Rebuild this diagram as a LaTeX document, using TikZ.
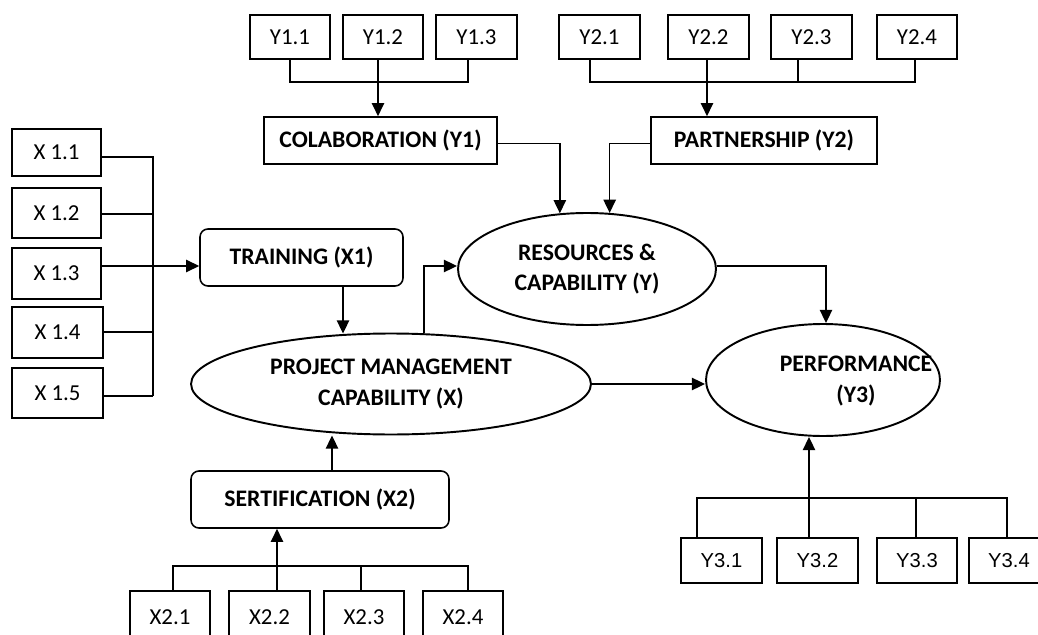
\documentclass[tikz,border=0pt]{standalone}
\usepackage{fontspec}
\setmainfont{Carlito}
\newfontfamily\arialf{Liberation Sans}
\usetikzlibrary{arrows.meta,calc,shapes.geometric}
\tikzset{
  ln/.style={line width=0.9pt},
  arr/.style={ln,-{Triangle[length=7.5pt,width=7pt]}},
  ind/.style={draw,ln,rectangle,inner sep=0pt,font=\fontsize{13}{15}\selectfont},
  cons/.style={draw,ln,rectangle,inner sep=0pt,font=\bfseries\fontsize{13.5}{16}\selectfont},
  rcons/.style={cons,rounded corners=4.5pt},
  lat/.style={draw,line width=1.1pt,ellipse,inner sep=0pt,font=\bfseries\fontsize{13.5}{17.5}\selectfont,align=center}
}
\begin{document}
\begin{tikzpicture}[x=0.02cm,y=-0.02cm]
\useasboundingbox (0,0) rectangle (1038,635);
\clip (0,0) rectangle (1038,635);
% Y1 indicators
\node[ind,minimum width=1.6cm,minimum height=0.88cm] (y11) at (290,37) {Y1.1};
\node[ind,minimum width=1.6cm,minimum height=0.88cm] (y12) at (383,37) {Y1.2};
\node[ind,minimum width=1.62cm,minimum height=0.88cm] (y13) at (476.5,37) {Y1.3};
% Y2 indicators
\node[ind,minimum width=1.62cm,minimum height=0.88cm] (y21) at (599.5,37) {Y2.1};
\node[ind,minimum width=1.62cm,minimum height=0.88cm] (y22) at (708.5,37) {Y2.2};
\node[ind,minimum width=1.62cm,minimum height=0.88cm] (y23) at (811.5,37) {Y2.3};
\node[ind,minimum width=1.6cm,minimum height=0.88cm] (y24) at (917,37) {Y2.4};
% constructs Y1, Y2
\node[cons,minimum width=4.66cm,minimum height=0.94cm] (colab) at (380.5,140.5) {COLABORATION (Y1)};
\node[cons,minimum width=4.52cm,minimum height=0.94cm] (part) at (764,140.5) {PARTNERSHIP (Y2)};
% X1 indicators
\node[ind,minimum width=1.78cm,minimum height=0.94cm] (x11) at (56.5,152.5) {X 1.1};
\node[ind,minimum width=1.78cm,minimum height=1.0cm] (x12) at (56.5,213) {X 1.2};
\node[ind,minimum width=1.78cm,minimum height=1.02cm] (x13) at (56.5,273.5) {X 1.3};
\node[ind,minimum width=1.82cm,minimum height=1.02cm] (x14) at (57.5,332.5) {X 1.4};
\node[ind,minimum width=1.82cm,minimum height=1.0cm] (x15) at (57.5,393) {X 1.5};
% training, sertification
\node[rcons,minimum width=4.06cm,minimum height=1.14cm] (train) at (301.5,257.5) {TRAINING (X1)};
\node[rcons,minimum width=5.16cm,minimum height=1.14cm] (sert) at (320,499.5) {SERTIFICATION (X2)};
% X2 indicators
\node[ind,minimum width=1.6cm,minimum height=1.04cm] (x21) at (170,617) {X2.1};
\node[ind,minimum width=1.62cm,minimum height=1.04cm] (x22) at (269.5,617) {X2.2};
\node[ind,minimum width=1.6cm,minimum height=1.04cm] (x23) at (364,617) {X2.3};
\node[ind,minimum width=1.6cm,minimum height=1.04cm] (x24) at (463,617) {X2.4};
% Y3 indicators
\node[ind,font=\arialf\fontsize{11.5}{13}\selectfont,minimum width=1.62cm,minimum height=0.9cm] (y31) at (721.5,560.5) {Y3.1};
\node[ind,font=\arialf\fontsize{11.5}{13}\selectfont,minimum width=1.62cm,minimum height=0.9cm] (y32) at (817.5,560.5) {Y3.2};
\node[ind,font=\arialf\fontsize{11.5}{13}\selectfont,minimum width=1.6cm,minimum height=0.9cm] (y33) at (917,560.5) {Y3.3};
\node[ind,font=\arialf\fontsize{11.5}{13}\selectfont,minimum width=1.6cm,minimum height=0.9cm] (y34) at (1009,560.5) {Y3.4};
% latent ellipses
\node[lat,minimum width=5.16cm,minimum height=2.24cm] (res) at (587,269) {RESOURCES \&\\CAPABILITY (Y)};
\node[lat,minimum width=8.0cm,minimum height=2.02cm] (pm) at (391,384) {PROJECT MANAGEMENT\\CAPABILITY (X)};
\node[lat,minimum width=4.68cm,minimum height=2.24cm] (perf) at (823,380) {};
\node[font=\bfseries\fontsize{13.5}{17.5}\selectfont,align=center] (perft) at (856,381) {PERFORMANCE\\(Y3)};
% bus coordinates
\coordinate (by) at (0,82);
\coordinate (bx) at (153,0);
\coordinate (bx2) at (0,566);
\coordinate (by3) at (0,498);
% Y1 connectors
\draw[ln] (y11.south) -- (y11.south |- by) -- ($(y13.south |- by)+(-8.5,0)$) -- ($(y13.south)+(-8.5,0)$);
\draw[arr] ($(y12.south)+(-5,0)$) -- ($(y12.south |- colab.north)+(-5,0)$);
% Y2 connectors
\draw[ln] ($(y21.south)+(-9.5,0)$) -- ($(y21.south |- by)+(-9.5,0)$) -- ($(y24.south |- by)+(-2,0)$) -- ($(y24.south)+(-2,0)$);
\draw[ln] ($(y23.south)+(-13.5,0)$) -- ($(y23.south |- by)+(-13.5,0)$);
\draw[arr] ($(y22.south)+(-1.5,0)$) -- ($(y22.south |- part.north)+(-1.5,0)$);
% Y1, Y2 to resources
\draw[arr] ($(colab.east)+(0,3)$) -| (res.116);
\draw[arr] ($(part.west)+(0,3)$) -| (res.68);
% X1 connectors
\draw[ln] ($(x11.east)+(0,4.5)$) -- ($(x11.east -| bx)+(0,4.5)$) -- ($(x15.east -| bx)+(0,3)$);
\draw[ln] ($(x12.east)+(0,1)$) -- ($(x12.east -| bx)+(0,1)$);
\draw[ln] ($(x14.east)+(0,-0.5)$) -- ($(x14.east -| bx)+(0,-0.5)$);
\draw[ln] ($(x15.east)+(0,3)$) -- ($(x15.east -| bx)+(0,3)$);
\draw[arr] ($(x13.east)+(0,-7.5)$) -- ($(x13.east -| train.west)+(0,-7.5)$);
% training to PM
\draw[arr] ($(train.south)+(41.5,0)$) -- ($(train.south |- pm.north)+(41.5,1)$);
% sertification
\draw[arr] ($(sert.north)+(12,0)$) -- ($(sert.north |- pm.south)+(12,0)$);
\draw[ln] ($(x21.north)+(3,0)$) -- ($(x21.north |- bx2)+(3,0)$) -- ($(x24.north |- bx2)+(5,0)$) -- ($(x24.north)+(5,0)$);
\draw[ln] ($(x23.north)+(-3,0)$) -- ($(x23.north |- bx2)+(-3,0)$);
\draw[arr] ($(x22.north)+(7.5,0)$) -- ($(x22.north |- sert.south)+(7.5,0)$);
% PM to resources and performance
\draw[arr] (pm.57.5) |- ($(res.west)+(0,-3)$);
\draw[arr] (pm.east) -- (pm.east -| perf.west);
\draw[arr] ($(res.east)+(0,-3)$) -| ($(perf.north)+(3,0)$);
% Y3 connectors
\draw[ln] ($(y31.north)+(-24.5,0)$) -- ($(y31.north |- by3)+(-24.5,0)$) -- ($(y34.north |- by3)+(-2,0)$) -- ($(y34.north)+(-2,0)$);
\draw[ln] ($(y33.north)+(-1,0)$) -- ($(y33.north |- by3)+(-1,0)$);
\draw[arr] ($(y32.north)+(-8.5,0)$) -- ($(y32.north |- perf.south)+(-8.5,0)$);
\end{tikzpicture}
\end{document}
